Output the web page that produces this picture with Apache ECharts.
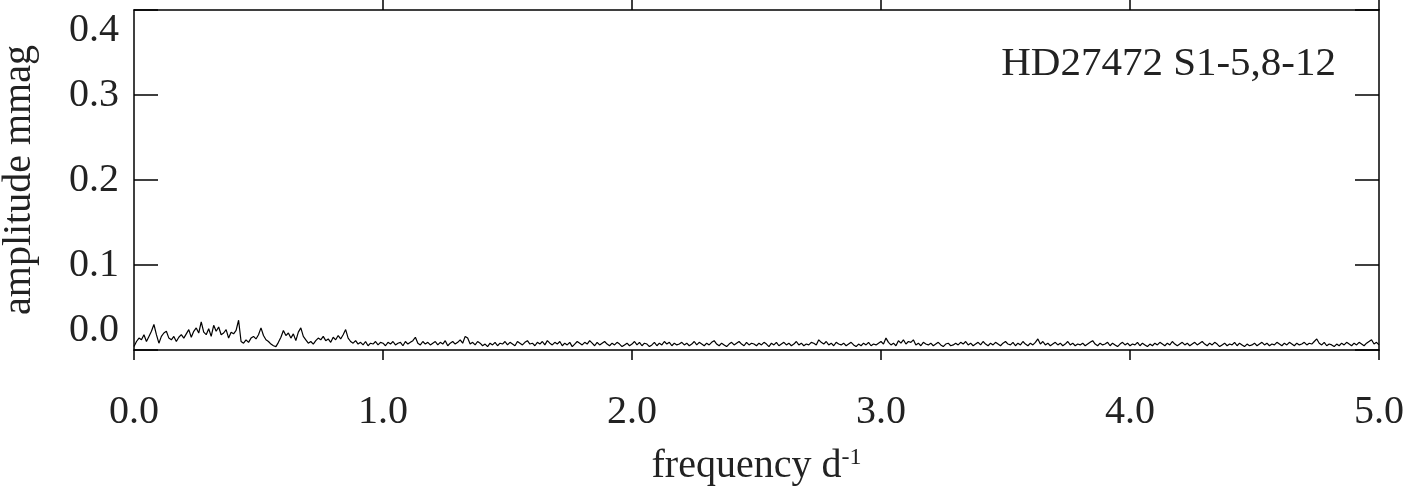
<!DOCTYPE html>
<html>
<head>
<meta charset="utf-8">
<script src="https://cdn.jsdelivr.net/npm/echarts@6/dist/echarts.min.js"></script>
<style>html,body{margin:0;padding:0;background:#fff;}#c{width:1404px;height:491px;}</style>
</head>
<body>
<div id="c"></div>
<script>
const chartTitle = "HD27472 S1-5,8-12";
const freqStart = 0.0;
const freqStep = 0.01;
const amplitude = [
0.004,0.010,0.014,0.012,0.018,0.010,0.016,0.022,0.030,0.018,
0.008,0.016,0.020,0.022,0.014,0.012,0.016,0.010,0.015,0.018,
0.014,0.019,0.024,0.015,0.022,0.026,0.020,0.033,0.021,0.018,
0.025,0.016,0.029,0.022,0.027,0.018,0.020,0.024,0.014,0.021,
0.019,0.023,0.035,0.010,0.008,0.012,0.009,0.014,0.016,0.013,
0.018,0.026,0.017,0.012,0.010,0.007,0.005,0.004,0.009,0.015,
0.023,0.017,0.020,0.014,0.019,0.011,0.021,0.026,0.016,0.012,
0.008,0.010,0.007,0.011,0.014,0.012,0.016,0.011,0.013,0.009,
0.015,0.012,0.017,0.013,0.018,0.024,0.014,0.010,0.008,0.011,
0.007,0.009,0.006,0.010,0.005,0.008,0.007,0.010,0.006,0.009,
0.008,0.005,0.009,0.007,0.010,0.006,0.008,0.009,0.005,0.010,
0.007,0.009,0.011,0.015,0.008,0.006,0.010,0.007,0.009,0.006,
0.008,0.010,0.006,0.009,0.007,0.011,0.005,0.008,0.010,0.007,
0.009,0.012,0.008,0.016,0.014,0.007,0.009,0.006,0.010,0.008,
0.005,0.007,0.004,0.008,0.006,0.009,0.005,0.008,0.007,0.010,
0.006,0.009,0.007,0.005,0.010,0.008,0.006,0.009,0.011,0.007,
0.008,0.005,0.009,0.007,0.010,0.006,0.011,0.008,0.006,0.009,
0.007,0.010,0.005,0.008,0.006,0.009,0.004,0.007,0.010,0.008,
0.006,0.009,0.007,0.011,0.008,0.005,0.009,0.006,0.008,0.010,
0.007,0.005,0.008,0.006,0.009,0.007,0.004,0.006,0.008,0.005,
0.007,0.010,0.006,0.009,0.005,0.008,0.007,0.004,0.006,0.009,
0.005,0.008,0.006,0.010,0.007,0.009,0.005,0.008,0.006,0.007,
0.009,0.006,0.008,0.005,0.007,0.010,0.006,0.009,0.007,0.005,
0.008,0.006,0.009,0.011,0.007,0.005,0.008,0.006,0.004,0.007,
0.009,0.006,0.008,0.010,0.007,0.005,0.009,0.006,0.008,0.007,
0.005,0.008,0.006,0.009,0.007,0.004,0.008,0.006,0.009,0.005,
0.007,0.009,0.006,0.008,0.005,0.007,0.010,0.006,0.008,0.005,
0.007,0.006,0.009,0.008,0.006,0.012,0.009,0.007,0.010,0.006,
0.008,0.005,0.009,0.007,0.006,0.008,0.005,0.007,0.009,0.006,
0.004,0.007,0.005,0.008,0.006,0.009,0.005,0.007,0.006,0.008,
0.010,0.007,0.014,0.009,0.006,0.008,0.005,0.011,0.008,0.012,
0.007,0.010,0.009,0.012,0.006,0.008,0.005,0.009,0.007,0.006,
0.008,0.005,0.007,0.009,0.006,0.004,0.007,0.008,0.005,0.006,
0.008,0.006,0.009,0.007,0.010,0.006,0.008,0.005,0.007,0.009,
0.006,0.010,0.007,0.005,0.008,0.006,0.009,0.007,0.005,0.008,
0.010,0.007,0.006,0.009,0.005,0.008,0.006,0.010,0.007,0.005,
0.008,0.006,0.009,0.013,0.007,0.010,0.006,0.008,0.005,0.007,
0.009,0.006,0.008,0.005,0.007,0.010,0.006,0.008,0.005,0.007,
0.006,0.008,0.005,0.007,0.009,0.011,0.007,0.005,0.008,0.006,
0.007,0.009,0.005,0.008,0.006,0.004,0.007,0.009,0.006,0.008,
0.005,0.007,0.006,0.009,0.005,0.008,0.006,0.004,0.007,0.005,
0.008,0.006,0.009,0.007,0.005,0.008,0.006,0.010,0.007,0.005,
0.007,0.009,0.006,0.008,0.005,0.007,0.009,0.006,0.008,0.010,
0.007,0.005,0.008,0.006,0.009,0.007,0.004,0.006,0.008,0.005,
0.007,0.006,0.009,0.005,0.008,0.006,0.004,0.007,0.005,0.006,
0.008,0.005,0.007,0.009,0.006,0.008,0.005,0.007,0.006,0.009,
0.007,0.005,0.008,0.006,0.009,0.007,0.005,0.008,0.006,0.007,
0.009,0.006,0.008,0.007,0.010,0.013,0.008,0.006,0.009,0.005,
0.007,0.006,0.004,0.007,0.005,0.008,0.006,0.009,0.007,0.005,
0.008,0.006,0.009,0.007,0.005,0.008,0.010,0.012,0.007,0.009,
0.006
];
const xTicks = [0, 1, 2, 3, 4, 5];
const yTicks = [0.0, 0.1, 0.2, 0.3, 0.4];

const series = amplitude.map((a, i) => [+(freqStart + i * freqStep).toFixed(3), a]);

const FONT = "'Liberation Serif', 'DejaVu Serif', serif";
const TXT = '#222';
const chart = echarts.init(document.getElementById('c'), null, {renderer: 'canvas'});
chart.setOption({
  animation: false,
  backgroundColor: '#fff',
  title: {
    text: chartTitle, right: 68, top: 44, padding: 0,
    textStyle: {fontFamily: FONT, fontSize: 41, fontWeight: 'normal', color: TXT}
  },
  grid: {left: 134, right: 25, top: 10, bottom: 141, containLabel: false, outerBoundsMode: 'none'},
  xAxis: [{
    type: 'value', position: 'bottom', min: xTicks[0], max: xTicks[xTicks.length - 1], interval: 1,
    axisLine: {onZero: false, lineStyle: {color: '#000', width: 1.5}},
    axisTick: {show: true, inside: false, length: 10, lineStyle: {color: '#000', width: 1.5}},
    splitLine: {show: false},
    axisLabel: {fontFamily: FONT, fontSize: 40, color: TXT, margin: 42, formatter: v => v.toFixed(1)},
    name: 'frequency d{sup|-1}', nameLocation: 'middle', nameGap: 96,
    nameTextStyle: {fontFamily: FONT, fontSize: 40, color: TXT,
      rich: {sup: {fontFamily: FONT, fontSize: 24, color: TXT, verticalAlign: 'top', padding: [0, 0, 14, 0]}}}
  }, {
    type: 'value', position: 'top', min: xTicks[0], max: xTicks[xTicks.length - 1], interval: 1,
    axisLine: {onZero: false, lineStyle: {color: '#000', width: 1.5}},
    axisTick: {show: true, inside: false, length: 10, customValues: xTicks.slice(1), lineStyle: {color: '#000', width: 1.5}},
    splitLine: {show: false},
    axisLabel: {show: false}
  }],
  yAxis: [{
    type: 'value', position: 'left', min: yTicks[0], max: yTicks[yTicks.length - 1], interval: 0.1,
    axisLine: {show: true, onZero: false, lineStyle: {color: '#000', width: 1.5}},
    axisTick: {show: true, inside: true, length: 24, lineStyle: {color: '#000', width: 1.5}},
    splitLine: {show: false},
    axisLabel: {fontFamily: FONT, fontSize: 40, color: TXT, margin: 15,
      formatter: v => v.toFixed(1), verticalAlignMinLabel: 'bottom', verticalAlignMaxLabel: 'top'},
    name: 'amplitude mmag', nameLocation: 'middle', nameGap: 95,
    nameTextStyle: {fontFamily: FONT, fontSize: 40, color: TXT}
  }, {
    type: 'value', position: 'right', min: yTicks[0], max: yTicks[yTicks.length - 1], interval: 0.1,
    axisLine: {show: true, onZero: false, lineStyle: {color: '#000', width: 1.5}},
    axisTick: {show: true, inside: true, length: 24, lineStyle: {color: '#000', width: 1.5}},
    splitLine: {show: false},
    axisLabel: {show: false}
  }],
  series: [{
    type: 'line', xAxisIndex: 0, yAxisIndex: 0, data: series,
    showSymbol: false, symbol: 'none',
    lineStyle: {color: '#000', width: 1.2}
  }]
});
</script>
</body>
</html>
